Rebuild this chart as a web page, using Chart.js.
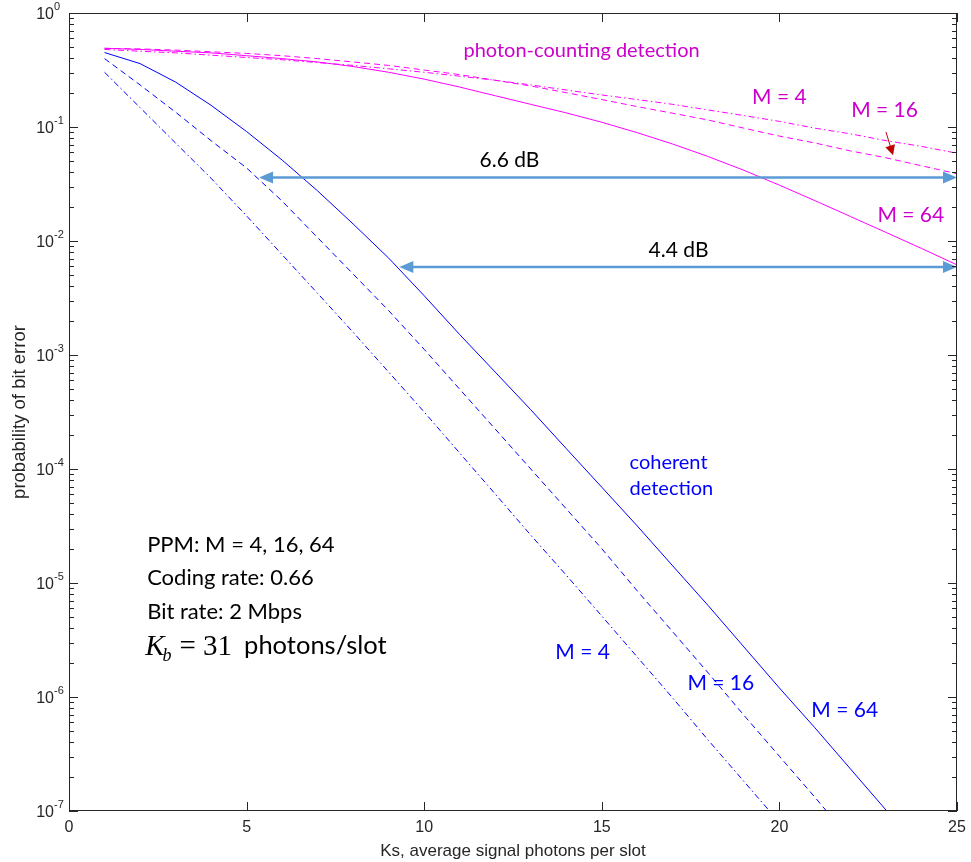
<!DOCTYPE html>
<html>
<head>
<meta charset="utf-8">
<script src="https://cdn.jsdelivr.net/npm/chart.js@4.4.0/dist/chart.umd.min.js"></script>
<style>
  html, body { margin: 0; padding: 0; background: #fff; }
  #grafico { display: block; }
</style>
</head>
<body>
<canvas id="grafico" width="971" height="862"></canvas>
<script>
// Ks (average signal photons per slot)
const ks = [1, 2, 3, 4, 5, 6, 7, 8, 9, 10, 11, 12, 13, 14, 15, 16, 17, 18, 19, 20, 21, 22, 23, 24, 25];

// coherent detection
const coerenteM4 = [0.302, 0.148, 0.0724, 0.0355, 0.0166, 7.59e-3, 3.47e-3, 1.58e-3, 7.08e-4, 3.16e-4,
  1.38e-4, 6.03e-5, 2.63e-5, 1.17e-5, 5.13e-6, 2.24e-6, 9.77e-7, 4.17e-7, 1.82e-7, 7.94e-8, 3.47e-8];
const coerenteM16 = [0.398, 0.234, 0.135, 0.0759, 0.0437, 0.0224, 0.0107, 5.13e-3, 2.45e-3, 1.12e-3,
  5.01e-4, 2.24e-4, 1.0e-4, 4.47e-5, 2.0e-5, 8.51e-6, 3.72e-6, 1.62e-6, 6.92e-7, 3.02e-7, 1.32e-7, 5.62e-8];
const coerenteM64 = [0.450, 0.360, 0.248, 0.155, 0.0912, 0.0513, 0.0275, 0.0141, 7.08e-3, 3.31e-3,
  1.51e-3, 7.08e-4, 3.31e-4, 1.51e-4, 6.92e-5, 3.16e-5, 1.41e-5, 6.31e-6, 2.75e-6, 1.20e-6,
  5.37e-7, 2.34e-7, 1.02e-7, 4.47e-8];

// photon-counting detection
const contagemM4 = [0.479, 0.462, 0.447, 0.427, 0.407, 0.389, 0.367, 0.347, 0.324, 0.302,
  0.279, 0.257, 0.234, 0.211, 0.191, 0.174, 0.158, 0.141, 0.126, 0.112,
  0.0977, 0.0871, 0.0759, 0.0676, 0.0589];
const contagemM16 = [0.490, 0.484, 0.473, 0.457, 0.442, 0.422, 0.398, 0.372, 0.347, 0.316,
  0.288, 0.257, 0.229, 0.200, 0.174, 0.151, 0.132, 0.115, 0.0977, 0.0832,
  0.0724, 0.0617, 0.0537, 0.0457, 0.0389];
const contagemM64 = [0.490, 0.479, 0.462, 0.447, 0.422, 0.398, 0.372, 0.339, 0.302, 0.263,
  0.224, 0.188, 0.158, 0.133, 0.110, 0.0891, 0.0708, 0.0550, 0.0417, 0.0309,
  0.0226, 0.0164, 0.0119, 0.00861, 0.00617];

const xTicks = [0, 5, 10, 15, 20, 25];
const yExpoentes = [0, -1, -2, -3, -4, -5, -6, -7];

const AZUL = '#0000ff';
const MAGENTA = '#ff00ff';
const SETA = '#5b9bd5';
const TRACO = [6, 4];
const TRACO_PONTO = [6, 3, 1.5, 3];

function pontos(valores) {
  return valores.map((v, i) => ({ x: ks[i], y: v }));
}

function serie(valores, cor, tracejado) {
  return {
    data: pontos(valores),
    borderColor: cor,
    borderWidth: 1,
    borderDash: tracejado,
    pointRadius: 0,
    tension: 0,
    fill: false
  };
}

// text annotations, placed in data coordinates
const textos = [
  { t: 'photon-counting detection', x: 14.43, y: 0.47, cor: '#cc00cc', tam: 20 },
  { t: 'M = 4', x: 20.0, y: 0.182, cor: '#cc00cc', tam: 21 },
  { t: 'M = 16', x: 22.96, y: 0.14, cor: '#cc00cc', tam: 21 },
  { t: 'M = 64', x: 23.7, y: 0.0168, cor: '#cc00cc', tam: 21 },
  { t: '6.6 dB', x: 12.4, y: 0.051, cor: '#000', tam: 21 },
  { t: '4.4 dB', x: 17.16, y: 0.00828, cor: '#000', tam: 21 },
  { t: 'M = 4', x: 14.46, y: 2.46e-6, cor: AZUL, tam: 21 },
  { t: 'M = 16', x: 18.35, y: 1.32e-6, cor: AZUL, tam: 21 },
  { t: 'M = 64', x: 21.84, y: 7.6e-7, cor: AZUL, tam: 21 }
];
const textosEsq = [
  { t: 'coherent', x: 15.78, y: 1.15e-4, cor: AZUL, tam: 20 },
  { t: 'detection', x: 15.78, y: 6.76e-5, cor: AZUL, tam: 20 },
  { t: 'PPM: M = 4, 16, 64', x: 2.2, y: 2.14e-5, cor: '#000', tam: 22 },
  { t: 'Coding rate: 0.66', x: 2.2, y: 1.10e-5, cor: '#000', tam: 22 },
  { t: 'Bit rate: 2 Mbps', x: 2.2, y: 5.6e-6, cor: '#000', tam: 22 }
];

function seta(ctx, x1, y1, x2, y2, cor, larg, comp, abert, dupla) {
  const ang = Math.atan2(y2 - y1, x2 - x1);
  ctx.strokeStyle = cor;
  ctx.fillStyle = cor;
  ctx.lineWidth = larg;
  const ini = dupla ? comp * 0.8 : 0;
  ctx.beginPath();
  ctx.moveTo(x1 + Math.cos(ang) * ini, y1 + Math.sin(ang) * ini);
  ctx.lineTo(x2 - Math.cos(ang) * comp * 0.8, y2 - Math.sin(ang) * comp * 0.8);
  ctx.stroke();
  const cabeca = (px, py, a) => {
    ctx.beginPath();
    ctx.moveTo(px, py);
    ctx.lineTo(px - comp * Math.cos(a) + abert * Math.sin(a), py - comp * Math.sin(a) - abert * Math.cos(a));
    ctx.lineTo(px - comp * Math.cos(a) - abert * Math.sin(a), py - comp * Math.sin(a) + abert * Math.cos(a));
    ctx.closePath();
    ctx.fill();
  };
  cabeca(x2, y2, ang);
  if (dupla) cabeca(x1, y1, ang + Math.PI);
}

const eixos = {
  id: 'eixos',
  afterDraw(chart) {
    const { ctx, chartArea: a, scales: { x, y } } = chart;
    ctx.save();

    // arrows between curves
    const y66 = y.getPixelForValue(0.036);
    seta(ctx, x.getPixelForValue(5.35), y66, x.getPixelForValue(25), y66, SETA, 2.5, 14, 6, true);
    const y44 = y.getPixelForValue(0.0059);
    seta(ctx, x.getPixelForValue(9.3), y44, x.getPixelForValue(25), y44, SETA, 2.5, 14, 6, true);
    seta(ctx, x.getPixelForValue(23.0), y.getPixelForValue(0.0905),
      x.getPixelForValue(23.2), y.getPixelForValue(0.0565), '#c00000', 1, 10, 5, false);

    // annotations
    ctx.textBaseline = 'middle';
    ctx.textAlign = 'center';
    textos.forEach(o => {
      ctx.font = o.tam + 'px Lato';
      ctx.fillStyle = o.cor;
      ctx.fillText(o.t, x.getPixelForValue(o.x), y.getPixelForValue(o.y));
    });
    ctx.textAlign = 'left';
    textosEsq.forEach(o => {
      ctx.font = o.tam + 'px Lato';
      ctx.fillStyle = o.cor;
      ctx.fillText(o.t, x.getPixelForValue(o.x), y.getPixelForValue(o.y));
    });

    // K_b = 31 photons/slot
    let px = x.getPixelForValue(2.2) - 2;
    const py = y.getPixelForValue(2.8e-6) + 9;
    ctx.textBaseline = 'alphabetic';
    ctx.fillStyle = '#000';
    ctx.font = 'italic 29px "Liberation Serif"';
    ctx.fillText('K', px, py);
    px += ctx.measureText('K').width - 2;
    ctx.font = 'italic 18px "Liberation Serif"';
    ctx.fillText('b', px, py + 6);
    px += ctx.measureText('b').width + 8;
    ctx.font = '29px "Liberation Serif"';
    ctx.fillText('= 31', px, py);
    px += ctx.measureText('= 31').width + 12;
    ctx.font = '25.5px Lato';
    ctx.fillText('photons/slot', px, py - 1);

    // box
    ctx.strokeStyle = '#262626';
    ctx.lineWidth = 1;
    ctx.strokeRect(a.left + 0.5, a.top + 0.5, a.right - a.left - 1, a.bottom - a.top - 1);

    ctx.beginPath();
    xTicks.forEach(t => {
      const p = Math.round(x.getPixelForValue(t)) + 0.5;
      ctx.moveTo(p, a.bottom); ctx.lineTo(p, a.bottom - 9);
      ctx.moveTo(p, a.top); ctx.lineTo(p, a.top + 9);
    });
    yExpoentes.forEach(e => {
      const p = Math.round(y.getPixelForValue(Math.pow(10, e))) + 0.5;
      ctx.moveTo(a.left, p); ctx.lineTo(a.left + 9, p);
      ctx.moveTo(a.right, p); ctx.lineTo(a.right - 9, p);
      if (e < 0) {
        for (let k = 2; k <= 9; k++) {
          const q = Math.round(y.getPixelForValue(k * Math.pow(10, e))) + 0.5;
          ctx.moveTo(a.left, q); ctx.lineTo(a.left + 5, q);
          ctx.moveTo(a.right, q); ctx.lineTo(a.right - 5, q);
        }
      }
    });
    ctx.stroke();

    // tick labels
    ctx.fillStyle = '#262626';
    ctx.textAlign = 'center';
    ctx.textBaseline = 'top';
    ctx.font = '16px "Liberation Sans"';
    xTicks.forEach(t => ctx.fillText(String(t), x.getPixelForValue(t), a.bottom + 9));

    yExpoentes.forEach(e => {
      const p = y.getPixelForValue(Math.pow(10, e));
      ctx.textBaseline = 'alphabetic';
      ctx.textAlign = 'right';
      ctx.font = '16px "Liberation Sans"';
      ctx.fillText('10', a.left - 15, p + 6);
      ctx.textAlign = 'left';
      ctx.font = '11px "Liberation Sans"';
      ctx.fillText(String(e), a.left - 15, p - 3);
    });

    // axis titles
    ctx.font = '17px "Liberation Sans"';
    ctx.textAlign = 'center';
    ctx.textBaseline = 'middle';
    ctx.fillText('Ks, average signal photons per slot', (a.left + a.right) / 2, 851);
    ctx.font = '18.5px "Liberation Sans"';
    ctx.translate(20, (a.top + a.bottom) / 2);
    ctx.rotate(-Math.PI / 2);
    ctx.fillText('probability of bit error', 0, 0);

    ctx.restore();
  }
};

new Chart(document.getElementById('grafico'), {
  type: 'line',
  data: {
    datasets: [
      serie(contagemM4, MAGENTA, TRACO_PONTO),
      serie(contagemM16, MAGENTA, TRACO),
      serie(contagemM64, MAGENTA, []),
      serie(coerenteM4, AZUL, TRACO_PONTO),
      serie(coerenteM16, AZUL, TRACO),
      serie(coerenteM64, AZUL, [])
    ]
  },
  options: {
    responsive: false,
    animation: false,
    devicePixelRatio: 1,
    layout: { padding: { left: 69, right: 14, top: 13, bottom: 51 } },
    plugins: { legend: { display: false }, tooltip: { enabled: false } },
    scales: {
      x: { type: 'linear', min: 0, max: 25, display: false },
      y: { type: 'logarithmic', min: 1e-7, max: 1, display: false }
    }
  },
  plugins: [eixos]
});
</script>
</body>
</html>
